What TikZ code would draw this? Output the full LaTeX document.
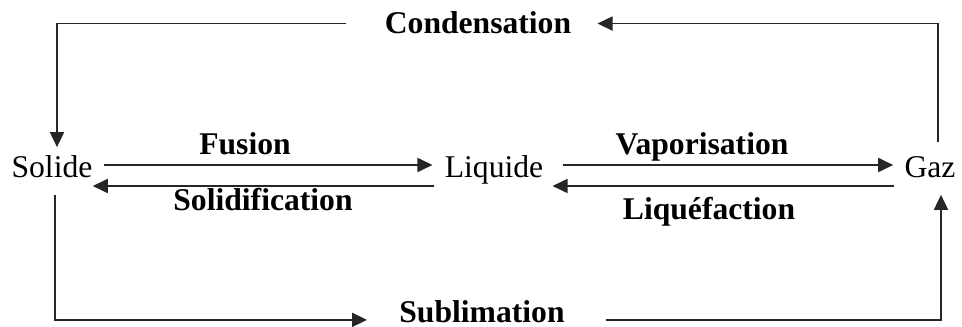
\documentclass[tikz,border=0pt]{standalone}
\usepackage{fontspec}
\setmainfont{Liberation Serif}
\usetikzlibrary{arrows.meta,calc,positioning}
\tikzset{
mystate/.style={
  inner sep=0pt,
  text height=12.5pt,
  text depth=4pt,
  font=\fontsize{18}{20}\selectfont,
  }
}
\tikzset{
mylabel/.style={
  inner sep=0pt,
  anchor=base,
  text height=12.5pt,
  text depth=4pt,
  font=\fontsize{18}{20}\selectfont\bfseries,
  }
}
\tikzset{
myline/.style={
  line width=1pt,
  color=black!85,
  -{Triangle[length=3mm,width=2.8mm]}
  }
}

\begin{document}
\begin{tikzpicture}[x=0.02cm,y=-0.02cm]
    \useasboundingbox (0,0) rectangle (962,327);

    % states
    \node[mystate] (solide) at (52,170) {Solide};
    \node[mystate] (liquide) at (494,170) {Liquide};
    \node[mystate] (gaz) at (930,170) {Gaz};

    % process labels
    \node[mylabel] (fus) at (245,155) {Fusion};
    \node[mylabel] (sol) at (263,211) {Solidification};
    \node[mylabel] (vap) at (702,155) {Vaporisation};
    \node[mylabel] (liq) at (709,220) {Liquéfaction};
    \node[mylabel] (cond) at (478,34) {Condensation};
    \node[mylabel, text depth=1pt] (subl) at (482,322) {Sublimation};

    % solide <-> liquide
    \draw[myline] ($(solide.east)+(11,-5)$) -- ($(liquide.west)+(-12,-5)$);
    \draw[myline] ($(liquide.west)+(-10,16)$) -- ($(solide.east)+(0,16)$);

    % liquide <-> gaz
    \draw[myline] ($(liquide.east)+(19,-5)$) -- ($(gaz.west)+(-11,-5)$);
    \draw[myline] ($(gaz.west)+(-10,16)$) -- ($(liquide.east)+(9,16)$);

    % gaz -> solide
    \draw[myline] ($(gaz.north)+(8,-13)$) |- ($(cond.east)+(26,-3)$);
    \draw[myline] ($(cond.west)+(-39,-3)$) -| ($(solide.north)+(5,-8)$);

    % solide -> gaz
    \draw[myline] ($(solide.south)+(3,10)$) |- ($(subl.west)+(-32,8)$);
    \draw[myline] ($(subl.east)+(41,8)$) -| ($(gaz.south)+(11,10)$);
\end{tikzpicture}
\end{document}
